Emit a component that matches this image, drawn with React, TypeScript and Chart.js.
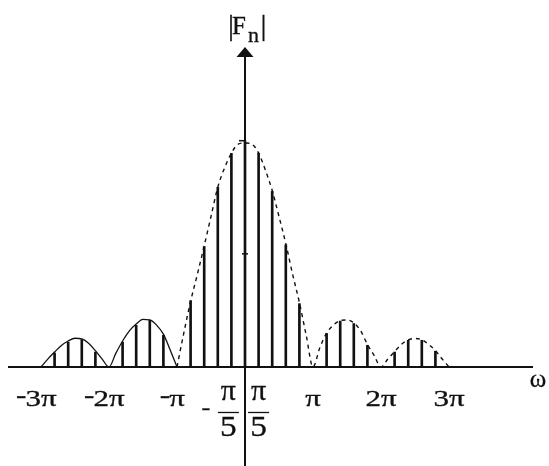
import React, { useEffect, useRef } from "react";
import { Chart, registerables } from "chart.js";

Chart.register(...registerables);

// Frequency axis is in units of π (ω / π).
// Spectral lines |F_n| sit at multiples of π/5.
const stemPositions = [
  -2.8, -2.6, -2.4, -2.2, -1.8, -1.6, -1.4, -1.2, -0.8, -0.6, -0.4, -0.2, 0,
  0.2, 0.4, 0.6, 0.8, 1.2, 1.4, 1.6, 1.8, 2.2, 2.4, 2.6, 2.8,
];
const stemHeights = [
  0.062, 0.11, 0.121, 0.066, 0.11, 0.184, 0.206, 0.14, 0.293, 0.532, 0.794,
  0.944, 1.0, 0.945, 0.776, 0.54, 0.28, 0.148, 0.203, 0.192, 0.096, 0.066,
  0.118, 0.118, 0.07,
];

// Envelope, solid part (outer lobes on the negative side)
const solidEnvX = [
  -3.0, -2.9, -2.8, -2.7, -2.6, -2.5, -2.4, -2.3, -2.2, -2.1, -2.0, -1.9, -1.8,
  -1.7, -1.6, -1.5, -1.4, -1.3, -1.2, -1.1, -1.0,
];
const solidEnvY = [
  0, 0.035, 0.066, 0.095, 0.115, 0.127, 0.124, 0.105, 0.072, 0.035, 0, 0.06,
  0.115, 0.16, 0.19, 0.21, 0.208, 0.185, 0.145, 0.075, 0,
];

// Envelope, dashed part (main lobe and positive side lobes)
const dashedEnvX = [
  -1.0, -0.9, -0.8, -0.7, -0.6, -0.5, -0.4, -0.3, -0.2, -0.1, 0, 0.1, 0.2, 0.3,
  0.4, 0.5, 0.6, 0.7, 0.8, 0.9, 1.0, 1.1, 1.2, 1.3, 1.4, 1.5, 1.6, 1.7, 1.8,
  1.9, 2.0, 2.1, 2.2, 2.3, 2.4, 2.5, 2.6, 2.7, 2.8, 2.9, 3.0,
];
const dashedEnvY = [
  0, 0.15, 0.29, 0.41, 0.535, 0.665, 0.795, 0.88, 0.945, 0.985, 0.99, 0.985,
  0.945, 0.87, 0.78, 0.665, 0.545, 0.41, 0.285, 0.14, 0, 0.085, 0.15, 0.185,
  0.205, 0.208, 0.195, 0.16, 0.1, 0.05, 0, 0.035, 0.068, 0.1, 0.12, 0.126,
  0.12, 0.1, 0.072, 0.035, 0,
];

const piTickValues = [-3, -2, -1, 1, 2, 3];
const piTickLabels = ["-3π", "-2π", "-π", "π", "2π", "3π"];
const fracTickValues = [-0.2, 0.2];
const fracNumerator = "π";
const fracDenominator = "5";
const yMarkValues = [1, 0.5];
const xAxisTitle = "ω";
const yAxisTitleParts = ["|", "F", "n", "|"];

const INK = "#111";
const SERIF = "'Liberation Serif', 'Times New Roman', serif";

function drawText(
  ctx: CanvasRenderingContext2D,
  text: string,
  x: number,
  y: number,
  size: number,
  sx: number,
  align: CanvasTextAlign
) {
  ctx.save();
  ctx.font = `${size}px ${SERIF}`;
  ctx.textAlign = align;
  ctx.textBaseline = "alphabetic";
  ctx.translate(x, y);
  ctx.scale(sx, 1);
  ctx.fillText(text, 0, 0);
  // slightly heavier strokes
  ctx.lineWidth = 0.3;
  ctx.strokeText(text, 0, 0);
  ctx.restore();
}

function textWidth(ctx: CanvasRenderingContext2D, text: string, size: number) {
  ctx.save();
  ctx.font = `${size}px ${SERIF}`;
  const w = ctx.measureText(text).width;
  ctx.restore();
  return w;
}

const axesPlugin = {
  id: "spectrumAxes",
  afterDatasetsDraw(chart: any) {
    const { ctx, chartArea } = chart;
    const xs = chart.scales.x;
    const ys = chart.scales.y;
    const x0 = xs.getPixelForValue(0);
    const y0 = ys.getPixelForValue(0);

    ctx.save();
    ctx.strokeStyle = INK;
    ctx.fillStyle = INK;
    ctx.lineCap = "butt";

    // horizontal axis
    ctx.lineWidth = 2;
    ctx.beginPath();
    ctx.moveTo(chartArea.left, y0);
    ctx.lineTo(chartArea.right, y0);
    ctx.stroke();

    // vertical axis with arrow
    ctx.beginPath();
    ctx.moveTo(x0, chartArea.bottom);
    ctx.lineTo(x0, chartArea.top + 8);
    ctx.stroke();
    ctx.beginPath();
    ctx.moveTo(x0, chartArea.top);
    ctx.lineTo(x0 - 8.5, chartArea.top + 10);
    ctx.lineTo(x0 + 8.5, chartArea.top + 10);
    ctx.closePath();
    ctx.fill();

    // small marks on the vertical axis
    ctx.lineWidth = 1.5;
    yMarkValues.forEach((v, i) => {
      const py = ys.getPixelForValue(v);
      ctx.beginPath();
      if (i === 0) {
        ctx.moveTo(x0 - 6, py);
        ctx.lineTo(x0, py);
      } else {
        ctx.moveTo(x0 - 3, py);
        ctx.lineTo(x0 + 3, py);
      }
      ctx.stroke();
    });

    // multiples of π
    const sx = 1.35;
    const size = 23;
    piTickValues.forEach((v, i) => {
      const px = xs.getPixelForValue(v);
      const label = piTickLabels[i];
      const neg = label.startsWith("-");
      const rest = neg ? label.slice(1) : label;
      const wr = textWidth(ctx, rest, size) * sx;
      drawText(ctx, rest, px, y0 + 39, size, sx, "center");
      if (neg) drawText(ctx, "-", px - wr / 2 + 1, y0 + 36, size, sx, "right");
    });

    // ±π/5 fractions
    fracTickValues.forEach((v) => {
      const px = xs.getPixelForValue(v);
      const cx = px + (v < 0 ? -3 : 0);
      drawText(ctx, fracNumerator, cx, y0 + 33, 30, 1.0, "center");
      ctx.lineWidth = 1.3;
      ctx.beginPath();
      ctx.moveTo(cx - 10.5, y0 + 45.5);
      ctx.lineTo(cx + 10.5, y0 + 45.5);
      ctx.stroke();
      drawText(ctx, fracDenominator, cx, y0 + 69.5, 29, 1.15, "center");
      if (v < 0) drawText(ctx, "-", cx - 18, y0 + 47, 22, 1.2, "right");
    });

    // ω at the end of the horizontal axis
    drawText(ctx, xAxisTitle, chartArea.right + 5, y0 + 20, 25, 1.0, "center");

    // |F_n| above the arrow
    const tb = chartArea.top - 12;
    drawText(ctx, yAxisTitleParts[0], x0 - 14, tb, 30, 1.0, "center");
    drawText(ctx, yAxisTitleParts[1], x0 - 13, tb - 1.5, 25, 1.0, "left");
    drawText(ctx, yAxisTitleParts[2], x0 + 3, tb + 6.5, 22, 1.0, "left");
    drawText(ctx, yAxisTitleParts[3], x0 + 18.5, tb, 30, 1.0, "center");

    ctx.restore();
  },
};

export default function App() {
  const canvasRef = useRef<HTMLCanvasElement | null>(null);

  useEffect(() => {
    if (!canvasRef.current) return;
    const chart = new Chart(canvasRef.current, {
      type: "bar",
      data: {
        datasets: [
          {
            type: "line",
            data: solidEnvX.map((x, i) => ({ x, y: solidEnvY[i] })),
            borderColor: INK,
            borderWidth: 1.3,
            pointRadius: 0,
            cubicInterpolationMode: "monotone",
            fill: false,
            order: 0,
          } as any,
          {
            type: "line",
            data: dashedEnvX.map((x, i) => ({ x, y: dashedEnvY[i] })),
            borderColor: INK,
            borderWidth: 1.4,
            borderDash: [4, 4],
            pointRadius: 0,
            cubicInterpolationMode: "monotone",
            fill: false,
            order: 0,
          } as any,
          {
            type: "bar",
            data: stemPositions.map((x, i) => ({ x, y: stemHeights[i] })),
            backgroundColor: INK,
            borderWidth: 0,
            barThickness: 2,
            grouped: false,
            order: 1,
          } as any,
        ],
      },
      options: {
        animation: false,
        responsive: true,
        maintainAspectRatio: false,
        devicePixelRatio: 1,
        layout: { padding: { left: 8, right: 16, top: 47, bottom: 0 } },
        plugins: {
          legend: { display: false },
          tooltip: { enabled: false },
        },
        scales: {
          x: {
            type: "linear",
            min: -3.485,
            max: 4.235,
            offset: false,
            display: false,
          },
          y: {
            type: "linear",
            min: -0.4375,
            max: 1.414,
            display: false,
          },
        },
      } as any,
      plugins: [axesPlugin],
    });
    return () => chart.destroy();
  }, []);

  return (
    <div
      style={{
        position: "absolute",
        left: 0,
        top: 0,
        width: 549,
        height: 466,
        background: "#fff",
      }}
    >
      <canvas ref={canvasRef} />
    </div>
  );
}
